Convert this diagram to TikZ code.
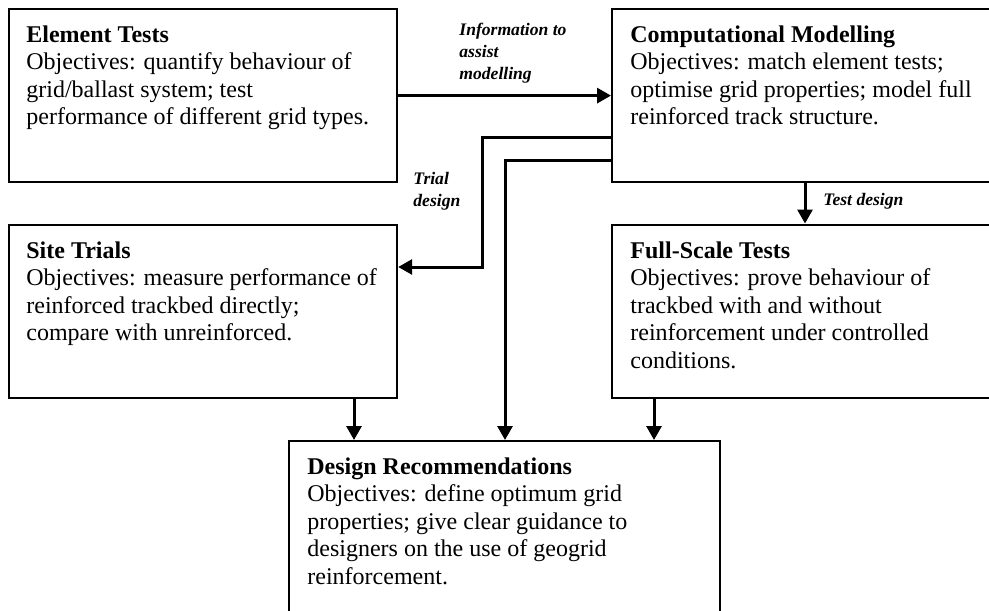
\documentclass[tikz,border=0pt]{standalone}
\usepackage{fontspec}
\setmainfont{Liberation Serif}
\usetikzlibrary{arrows.meta}

\tikzset{
  stage/.style={draw, line width=1.1pt, inner sep=0pt, anchor=north west},
  stagetext/.style={anchor=north west, inner sep=0pt, align=left,
    font=\fontsize{12}{13.8}\selectfont},
  flow/.style={line width=1.5pt, -{Triangle[length=7pt,width=7.5pt]}},
  note/.style={anchor=north west, inner sep=0pt, align=left,
    font=\fontsize{8.8}{11}\selectfont\bfseries\itshape},
}

\begin{document}
\begin{tikzpicture}[x=0.5pt,y=-0.5pt]
  % page frame, boxes on the right run off the edge
  \useasboundingbox (0,0) rectangle (989,610);
  \clip (0,0) rectangle (989,610);

  % the five stages
  \node[stage, minimum width=194pt, minimum height=86.5pt] (elem) at (8,8) {};
  \node[stage, minimum width=200pt, minimum height=86.5pt] (model) at (611,8) {};
  \node[stage, minimum width=194pt, minimum height=86.5pt] (site) at (8,223.5) {};
  \node[stage, minimum width=200pt, minimum height=86.5pt] (full) at (611,223.5) {};
  \node[stage, minimum width=215.5pt, minimum height=100pt] (design) at (288,440) {};

  % their texts
  \node[stagetext] (elemtext) at (26,25) {\textbf{Element Tests}\\
    Objectives: quantify behaviour of\\ grid/ballast system; test\\
    performance of different grid types.};
  \node[stagetext] (modeltext) at (630,25) {\textbf{Computational Modelling}\\
    Objectives: match element tests;\\ optimise grid properties; model full\\
    reinforced track structure.};
  \node[stagetext] (sitetext) at (26,241) {\textbf{Site Trials}\\
    Objectives: measure performance of\\ reinforced trackbed directly;\\
    compare with unreinforced.};
  \node[stagetext] (fulltext) at (630,241) {\textbf{Full-Scale Tests}\\
    Objectives: prove behaviour of\\ trackbed with and without\\
    reinforcement under controlled\\ conditions.};
  \node[stagetext] (designtext) at (307,457) {\textbf{Design Recommendations}\\
    Objectives: define optimum grid\\ properties; give clear guidance to\\
    designers on the use of geogrid\\ reinforcement.};

  % links between stages
  \draw[flow] (elem.east) -- (model.west);
  \draw[flow] (model.west |- 0,137) -| (482,267) -- (site.east |- 0,267);
  \draw[flow] (model.west |- 0,160) -| (design.north -| 505,0);
  \draw[flow] (model.south -| 805,0) -- (full.north -| 805,0);
  \draw[flow] (site.south -| 354,0) -- (design.north -| 354,0);
  \draw[flow] (full.south -| 654,0) -- (design.north -| 654,0);

  % link labels
  \node[note] (info) at (459,23) {Information to\\ assist\\ modelling};
  \node[note] (trial) at (413,172) {Trial\\ design};
  \node[note] (test) at (823,193) {Test design};
\end{tikzpicture}
\end{document}
